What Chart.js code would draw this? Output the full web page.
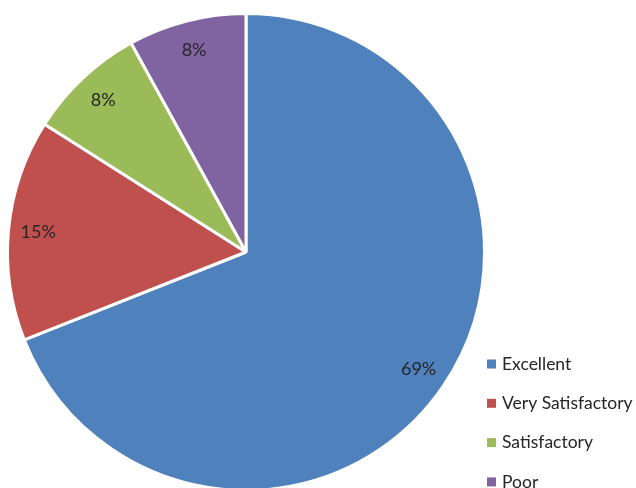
<!DOCTYPE html>
<html>
<head>
<meta charset="utf-8">
<script src="https://cdn.jsdelivr.net/npm/chart.js@4.4.1/dist/chart.umd.min.js"></script>
<style>
  html, body { margin: 0; padding: 0; background: #fff; overflow: hidden; }
  #wrap { position: relative; width: 636px; height: 500px; }
</style>
</head>
<body>
<div id="wrap"><canvas id="ratingPie"></canvas></div>
<script>
const categories = ['Excellent', 'Very Satisfactory', 'Satisfactory', 'Poor'];
const percents = [69, 15, 8, 8];
const colors = ['#4F81BD', '#C0504D', '#9BBB59', '#8064A2'];

const fontFamily = 'Lato, "Open Sans", sans-serif';
const textColor = '#262626';

// percent labels inside each slice, near the rim
const sliceLabels = {
    id: 'sliceLabels',
    afterDatasetsDraw(chart) {
        const ctx = chart.ctx;
        const meta = chart.getDatasetMeta(0);
        ctx.save();
        ctx.font = '18px ' + fontFamily;
        ctx.fillStyle = textColor;
        ctx.textAlign = 'center';
        ctx.textBaseline = 'middle';
        meta.data.forEach((arc, i) => {
            const p = arc.getProps(['x', 'y', 'startAngle', 'endAngle', 'outerRadius'], true);
            const mid = (p.startAngle + p.endAngle) / 2;
            const r = p.outerRadius * 0.875;
            ctx.fillText(percents[i] + '%', p.x + Math.cos(mid) * r, p.y + Math.sin(mid) * r);
        });
        ctx.restore();
    }
};

// legend stacked in the lower right corner
const cornerLegend = {
    id: 'cornerLegend',
    afterDraw(chart) {
        const ctx = chart.ctx;
        ctx.save();
        ctx.font = '17.5px ' + fontFamily;
        ctx.textBaseline = 'middle';
        categories.forEach((name, i) => {
            const y = 364 + i * 39.3;
            ctx.fillStyle = colors[i];
            ctx.fillRect(487, y - 4.5, 9, 9);
            ctx.fillStyle = textColor;
            ctx.fillText(name, 502, y);
        });
        ctx.restore();
    }
};

new Chart(document.getElementById('ratingPie'), {
    type: 'pie',
    data: {
        labels: categories,
        datasets: [{
            data: percents,
            backgroundColor: colors,
            borderColor: '#ffffff',
            borderWidth: 3
        }]
    },
    options: {
        responsive: true,
        maintainAspectRatio: false,
        animation: false,
        layout: { padding: { left: 6, top: 12, right: 150, bottom: 8 } },
        plugins: {
            legend: { display: false },
            tooltip: { enabled: false }
        }
    },
    plugins: [sliceLabels, cornerLegend]
});
</script>
</body>
</html>
